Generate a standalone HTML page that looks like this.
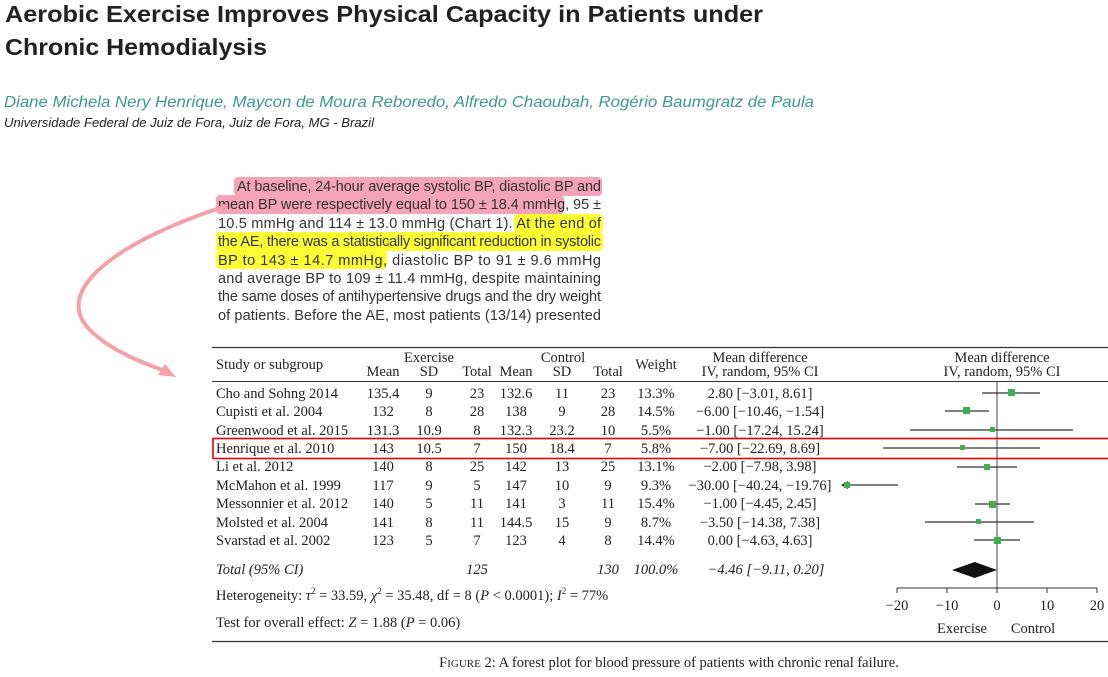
<!DOCTYPE html>
<html><head><meta charset="utf-8"><style>
body{margin:0;background:#fff}
svg{display:block}
.s{font-family:"Liberation Serif",serif;font-size:14.5px;fill:#222}
.p{font-family:"Liberation Sans",sans-serif;font-size:14.5px;fill:#333}
</style></head><body>
<svg width="1108" height="677" viewBox="0 0 1108 677" xmlns="http://www.w3.org/2000/svg">
<text x="5" y="22" font-family="Liberation Sans,sans-serif" font-weight="bold" font-size="23" fill="#222" textLength="758" lengthAdjust="spacingAndGlyphs">Aerobic Exercise Improves Physical Capacity in Patients under</text>
<text x="5" y="55" font-family="Liberation Sans,sans-serif" font-weight="bold" font-size="23" fill="#222" textLength="262" lengthAdjust="spacingAndGlyphs">Chronic Hemodialysis</text>
<text x="4" y="107" font-family="Liberation Sans,sans-serif" font-style="italic" font-size="16" fill="#3a9a8c" textLength="810" lengthAdjust="spacingAndGlyphs">Diane Michela Nery Henrique, Maycon de Moura Reboredo, Alfredo Chaoubah, Rogério Baumgratz de Paula</text>
<text x="4" y="127" font-family="Liberation Sans,sans-serif" font-style="italic" font-size="12.5" fill="#222" textLength="370" lengthAdjust="spacingAndGlyphs">Universidade Federal de Juiz de Fora, Juiz de Fora, MG - Brazil</text>
<!-- highlights -->
<rect x="234" y="177" width="368" height="19" rx="4" fill="#f4a3b8"/>
<rect x="216" y="195" width="348" height="19" rx="4" fill="#f4a3b8"/>
<rect x="514" y="214" width="89" height="19" rx="4" fill="#ffff33"/>
<rect x="216" y="232" width="387" height="19" rx="4" fill="#ffff33"/>
<rect x="216" y="250" width="171" height="19" rx="4" fill="#ffff33"/>
<g class="p">
<text x="237" y="191" textLength="364" lengthAdjust="spacing">At baseline, 24-hour average systolic BP, diastolic BP and</text>
<text x="218" y="209" textLength="383" lengthAdjust="spacing">mean BP were respectively equal to 150 ± 18.4 mmHg, 95 ±</text>
<text x="218" y="228" textLength="383" lengthAdjust="spacing">10.5 mmHg and 114 ± 13.0 mmHg (Chart 1). At the end of</text>
<text x="218" y="246" textLength="383" lengthAdjust="spacing">the AE, there was a statistically significant reduction in systolic</text>
<text x="218" y="265" textLength="383" lengthAdjust="spacing">BP to 143 ± 14.7 mmHg, diastolic BP to 91 ± 9.6 mmHg</text>
<text x="218" y="283" textLength="383" lengthAdjust="spacing">and average BP to 109 ± 11.4 mmHg, despite maintaining</text>
<text x="218" y="301" textLength="383" lengthAdjust="spacing">the same doses of antihypertensive drugs and the dry weight</text>
<text x="218" y="320" textLength="383" lengthAdjust="spacing">of patients. Before the AE, most patients (13/14) presented</text>
</g>
<!-- pink arrow -->
<path d="M226 206 C120 240 50 290 90 330 C110 350 140 362 168 372" fill="none" stroke="#f4a0a8" stroke-width="4" stroke-linecap="round"/>
<path d="M176 377 L158 375 L165 364 Z" fill="#f4a0a8"/>
<!-- table -->
<line x1="212" y1="347.5" x2="1108" y2="347.5" stroke="#333" stroke-width="1.3"/>
<line x1="212" y1="381.5" x2="1108" y2="381.5" stroke="#333" stroke-width="1"/>
<line x1="212" y1="641.5" x2="1108" y2="641.5" stroke="#333" stroke-width="1.3"/>
<g class="s">
<text x="216" y="369">Study or subgroup</text>
<text x="429" y="362" text-anchor="middle">Exercise</text>
<text x="563" y="362" text-anchor="middle">Control</text>
<text x="383" y="376" text-anchor="middle">Mean</text>
<text x="429" y="376" text-anchor="middle">SD</text>
<text x="477" y="376" text-anchor="middle">Total</text>
<text x="516" y="376" text-anchor="middle">Mean</text>
<text x="562" y="376" text-anchor="middle">SD</text>
<text x="608" y="376" text-anchor="middle">Total</text>
<text x="656" y="369" text-anchor="middle">Weight</text>
<text x="760" y="362" text-anchor="middle">Mean difference</text>
<text x="760" y="376" text-anchor="middle">IV, random, 95% CI</text>
<text x="1002" y="362" text-anchor="middle">Mean difference</text>
<text x="1002" y="376" text-anchor="middle">IV, random, 95% CI</text>
</g>
<rect x="213" y="438.5" width="900" height="20" fill="none" stroke="#e00" stroke-width="1.6"/>
<!-- forest -->
<line x1="997" y1="381" x2="997" y2="588" stroke="#444" stroke-width="1"/>
<line x1="897" y1="588" x2="1097" y2="588" stroke="#333" stroke-width="1"/>
<g stroke="#333"><line x1="897" y1="588" x2="897" y2="593"/><line x1="947" y1="588" x2="947" y2="593"/><line x1="997" y1="588" x2="997" y2="593"/><line x1="1047" y1="588" x2="1047" y2="593"/><line x1="1097" y1="588" x2="1097" y2="593"/></g>
<g class="s" text-anchor="middle">
<text x="897" y="610">−20</text><text x="947" y="610">−10</text><text x="997" y="610">0</text><text x="1047" y="610">10</text><text x="1097" y="610">20</text>
<text x="962" y="633">Exercise</text><text x="1033" y="633">Control</text>
</g>
<path d="M952 570 L974.7 562 L997 570 L974.7 578 Z" fill="#111"/>
<g class="s">
<text x="216" y="574" font-style="italic">Total (95% CI)</text>
<text x="477" y="574" text-anchor="middle" font-style="italic">125</text>
<text x="608" y="574" text-anchor="middle" font-style="italic">130</text>
<text x="656" y="574" text-anchor="middle" font-style="italic">100.0%</text>
<text x="766" y="574" text-anchor="middle" font-style="italic">−4.46 [−9.11, 0.20]</text>
<text x="216" y="600">Heterogeneity: <tspan font-style="italic">τ</tspan><tspan font-size="9" dy="-6">2</tspan><tspan dy="6"> = 33.59, </tspan><tspan font-style="italic">χ</tspan><tspan font-size="9" dy="-6">2</tspan><tspan dy="6"> = 35.48, df = 8 (</tspan><tspan font-style="italic">P</tspan> &lt; 0.0001); <tspan font-style="italic">I</tspan><tspan font-size="9" dy="-6">2</tspan><tspan dy="6"> = 77%</tspan></text>
<text x="216" y="627">Test for overall effect: <tspan font-style="italic">Z</tspan> = 1.88 (<tspan font-style="italic">P</tspan> = 0.06)</text>
<text x="669" y="667" text-anchor="middle">F<tspan font-size="11">IGURE</tspan> 2: A forest plot for blood pressure of patients with chronic renal failure.</text>
</g>
<g class="s">
<text x="216" y="398">Cho and Sohng 2014</text><text x="383" y="398" text-anchor="middle">135.4</text><text x="429" y="398" text-anchor="middle">9</text><text x="477" y="398" text-anchor="middle">23</text><text x="516" y="398" text-anchor="middle">132.6</text><text x="562" y="398" text-anchor="middle">11</text><text x="608" y="398" text-anchor="middle">23</text><text x="656" y="398" text-anchor="middle">13.3%</text><text x="760" y="398" text-anchor="middle">2.80 [−3.01, 8.61]</text>
<text x="216" y="416">Cupisti et al. 2004</text><text x="383" y="416" text-anchor="middle">132</text><text x="429" y="416" text-anchor="middle">8</text><text x="477" y="416" text-anchor="middle">28</text><text x="516" y="416" text-anchor="middle">138</text><text x="562" y="416" text-anchor="middle">9</text><text x="608" y="416" text-anchor="middle">28</text><text x="656" y="416" text-anchor="middle">14.5%</text><text x="760" y="416" text-anchor="middle">−6.00 [−10.46, −1.54]</text>
<text x="216" y="435">Greenwood et al. 2015</text><text x="383" y="435" text-anchor="middle">131.3</text><text x="429" y="435" text-anchor="middle">10.9</text><text x="477" y="435" text-anchor="middle">8</text><text x="516" y="435" text-anchor="middle">132.3</text><text x="562" y="435" text-anchor="middle">23.2</text><text x="608" y="435" text-anchor="middle">10</text><text x="656" y="435" text-anchor="middle">5.5%</text><text x="760" y="435" text-anchor="middle">−1.00 [−17.24, 15.24]</text>
<text x="216" y="453">Henrique et al. 2010</text><text x="383" y="453" text-anchor="middle">143</text><text x="429" y="453" text-anchor="middle">10.5</text><text x="477" y="453" text-anchor="middle">7</text><text x="516" y="453" text-anchor="middle">150</text><text x="562" y="453" text-anchor="middle">18.4</text><text x="608" y="453" text-anchor="middle">7</text><text x="656" y="453" text-anchor="middle">5.8%</text><text x="760" y="453" text-anchor="middle">−7.00 [−22.69, 8.69]</text>
<text x="216" y="471">Li et al. 2012</text><text x="383" y="471" text-anchor="middle">140</text><text x="429" y="471" text-anchor="middle">8</text><text x="477" y="471" text-anchor="middle">25</text><text x="516" y="471" text-anchor="middle">142</text><text x="562" y="471" text-anchor="middle">13</text><text x="608" y="471" text-anchor="middle">25</text><text x="656" y="471" text-anchor="middle">13.1%</text><text x="760" y="471" text-anchor="middle">−2.00 [−7.98, 3.98]</text>
<text x="216" y="490">McMahon et al. 1999</text><text x="383" y="490" text-anchor="middle">117</text><text x="429" y="490" text-anchor="middle">9</text><text x="477" y="490" text-anchor="middle">5</text><text x="516" y="490" text-anchor="middle">147</text><text x="562" y="490" text-anchor="middle">10</text><text x="608" y="490" text-anchor="middle">9</text><text x="656" y="490" text-anchor="middle">9.3%</text><text x="760" y="490" text-anchor="middle">−30.00 [−40.24, −19.76]</text>
<text x="216" y="508">Messonnier et al. 2012</text><text x="383" y="508" text-anchor="middle">140</text><text x="429" y="508" text-anchor="middle">5</text><text x="477" y="508" text-anchor="middle">11</text><text x="516" y="508" text-anchor="middle">141</text><text x="562" y="508" text-anchor="middle">3</text><text x="608" y="508" text-anchor="middle">11</text><text x="656" y="508" text-anchor="middle">15.4%</text><text x="760" y="508" text-anchor="middle">−1.00 [−4.45, 2.45]</text>
<text x="216" y="527">Molsted et al. 2004</text><text x="383" y="527" text-anchor="middle">141</text><text x="429" y="527" text-anchor="middle">8</text><text x="477" y="527" text-anchor="middle">11</text><text x="516" y="527" text-anchor="middle">144.5</text><text x="562" y="527" text-anchor="middle">15</text><text x="608" y="527" text-anchor="middle">9</text><text x="656" y="527" text-anchor="middle">8.7%</text><text x="760" y="527" text-anchor="middle">−3.50 [−14.38, 7.38]</text>
<text x="216" y="545">Svarstad et al. 2002</text><text x="383" y="545" text-anchor="middle">123</text><text x="429" y="545" text-anchor="middle">5</text><text x="477" y="545" text-anchor="middle">7</text><text x="516" y="545" text-anchor="middle">123</text><text x="562" y="545" text-anchor="middle">4</text><text x="608" y="545" text-anchor="middle">8</text><text x="656" y="545" text-anchor="middle">14.4%</text><text x="760" y="545" text-anchor="middle">0.00 [−4.63, 4.63]</text>
</g>
<g stroke="#333" stroke-width="1.2">
<line x1="982" y1="393" x2="1040" y2="393"/>
<line x1="945" y1="411" x2="989" y2="411"/>
<line x1="910" y1="430" x2="1073" y2="430"/>
<line x1="883" y1="448" x2="1040" y2="448"/>
<line x1="957" y1="467" x2="1017" y2="467"/>
<line x1="846" y1="485" x2="898" y2="485"/>
<line x1="975" y1="504" x2="1010" y2="504"/>
<line x1="925" y1="522" x2="1034" y2="522"/>
<line x1="974" y1="540" x2="1020" y2="540"/>
</g>
<path d="M841 485 L848 481 L848 489 Z" fill="#222"/>
<g fill="#3cb34a">
<rect x="1008" y="389" width="7" height="7"/>
<rect x="963" y="407" width="7" height="7"/>
<rect x="990" y="427" width="5" height="5"/>
<rect x="960" y="445" width="5" height="5"/>
<rect x="984" y="464" width="6" height="6"/>
<rect x="844" y="482" width="6" height="6"/>
<rect x="989" y="501" width="7" height="7"/>
<rect x="976" y="519" width="5" height="5"/>
<rect x="994" y="537" width="7" height="7"/>
</g>
</svg>
</body></html>
